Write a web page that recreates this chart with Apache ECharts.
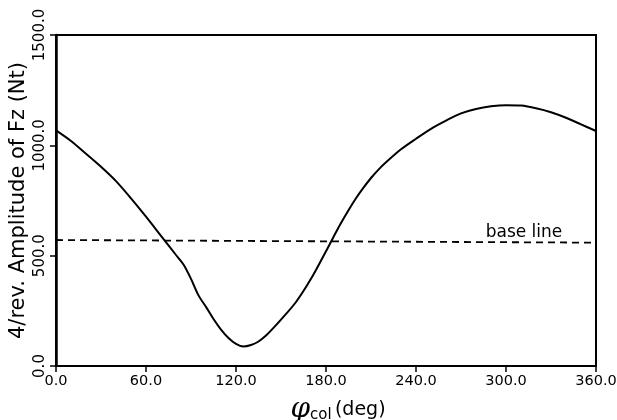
<!DOCTYPE html>
<html>
<head>
<meta charset="utf-8">
<script src="https://cdn.jsdelivr.net/npm/echarts@6/dist/echarts.min.js"></script>
<style>html,body{margin:0;padding:0;background:#fff;}#c{width:617px;height:420px;}</style>
</head>
<body>
<div id="c"></div>
<script>
// Data
const phiDeg = [0,10,20,30,40,50,60,70,80,85,90,95,100,105,110,115,120,125,130,135,140,145,150,160,170,180,185,190,195,200,205,210,215,220,230,240,250,260,270,280,290,300,310,320,330,340,350,360];
const fzAmp  = [1068,1020,962,903,838,760,677,590,503,460,395,320,268,213,165,127,100,88,95,111,138,173,210,290,395,520,585,648,706,760,808,852,890,923,982,1030,1075,1112,1145,1165,1177,1182,1180,1168,1150,1125,1095,1065];
const basePhi = [0,360];
const baseAmp = [571,559];
const baseLabel = 'base line';

const zip = (a,b)=>a.map((v,i)=>[v,b[i]]);
const chart = echarts.init(document.getElementById('c'), null, {renderer:'canvas'});
const F = 'DejaVu Sans';
chart.setOption({
  animation:false,
  backgroundColor:'#fff',
  grid:{left:56,right:21,top:35,bottom:54,containLabel:false,outerBoundsMode:'none',show:true,borderColor:'#000',borderWidth:2,backgroundColor:'transparent'},
  xAxis:{type:'value',min:0,max:360,interval:60,
    axisLine:{show:true,lineStyle:{color:'#000',width:2}},
    axisTick:{show:true,length:6,lineStyle:{color:'#000',width:1.5}},
    splitLine:{show:false},
    axisLabel:{color:'#000',fontFamily:F,fontSize:14.5,margin:8,formatter:v=>v.toFixed(1)},
    name:'{phi|φ}{sub|col} {u|(deg)}',nameLocation:'middle',nameGap:30,
    nameTextStyle:{padding:[0,0,0,24],rich:{
      phi:{fontFamily:'DejaVu Serif',fontStyle:'italic',fontSize:28,color:'#000',verticalAlign:'bottom'},
      sub:{fontFamily:F,fontSize:15,color:'#000',padding:[10,0,0,0]},
      u:{fontFamily:F,fontSize:19,color:'#000'}}}
  },
  yAxis:{type:'value',min:0,max:1500,interval:500,
    axisLine:{show:true,lineStyle:{color:'#000',width:2.5}},
    axisTick:{show:true,length:6,lineStyle:{color:'#000',width:1.5}},
    splitLine:{show:false},
    axisLabel:{color:'#000',fontFamily:F,fontSize:15,rotate:90,margin:8,formatter:v=>v.toFixed(1)},
    name:'4/rev. Amplitude of Fz (Nt)',nameLocation:'middle',nameRotate:90,nameGap:27,nameMoveOverlap:false,
    nameTextStyle:{fontFamily:F,fontSize:21,color:'#000'}
  },
  series:[
    {type:'line',data:zip(phiDeg,fzAmp),smooth:0.3,symbol:'none',
      lineStyle:{color:'#000',width:2}},
    {type:'line',data:zip(basePhi,baseAmp),symbol:'none',
      lineStyle:{color:'#000',width:1.8,type:[7,5]},
      markPoint:{symbol:'circle',symbolSize:1,silent:true,
        itemStyle:{color:'rgba(0,0,0,0)'},
        data:[{coord:[312,562]}],
        label:{show:true,formatter:baseLabel,position:'top',distance:0,
          fontFamily:F,fontSize:17,color:'#000'}}}
  ]
});
</script>
</body>
</html>
